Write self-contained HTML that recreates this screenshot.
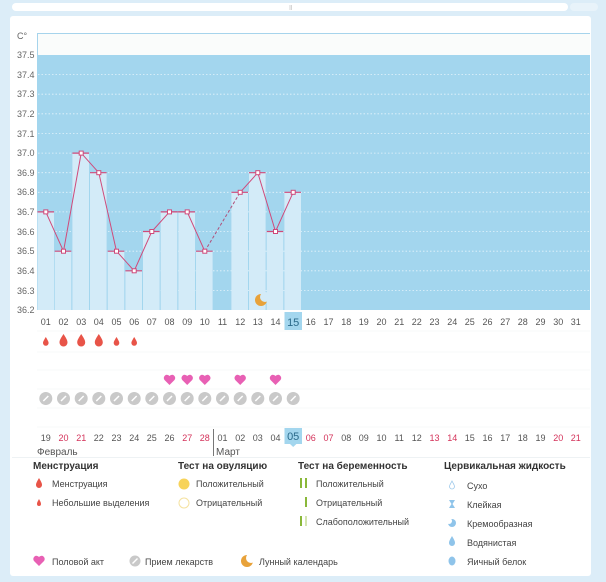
<!DOCTYPE html>
<html><head><meta charset="utf-8"><style>
html,body{margin:0;padding:0;background:#dcedf8;}
svg{display:block;font-family:"Liberation Sans","DejaVu Sans",sans-serif;}
</style></head><body>
<svg width="606" height="582" viewBox="0 0 606 582" xmlns="http://www.w3.org/2000/svg">
<rect x="0" y="0" width="606" height="582" fill="#dcedf8"/>
<rect x="12" y="3" width="556" height="8" rx="4" fill="#ffffff"/>
<rect x="570" y="3" width="28" height="8" rx="4" fill="#e8f3fa"/>
<line x1="290" y1="5" x2="290" y2="10" stroke="#bbb" stroke-width="0.6"/><line x1="291.5" y1="5" x2="291.5" y2="10" stroke="#bbb" stroke-width="0.6"/>
<rect x="10" y="16" width="581" height="560" rx="3" fill="#ffffff"/>
<rect x="37" y="33" width="553" height="22" fill="#fafcfb"/>
<line x1="37" y1="33.5" x2="590" y2="33.5" stroke="#a6d4ec" stroke-width="1"/>
<line x1="37.5" y1="33" x2="37.5" y2="310" stroke="#a6d4ec" stroke-width="1"/>
<rect x="37" y="55" width="553" height="255" fill="#a3d6ee"/>
<g stroke="#e4f3fb" stroke-width="0.8" stroke-dasharray="1.5,2">
<line x1="38" y1="74.6" x2="590" y2="74.6"/><line x1="38" y1="94.2" x2="590" y2="94.2"/><line x1="38" y1="113.8" x2="590" y2="113.8"/><line x1="38" y1="133.5" x2="590" y2="133.5"/><line x1="38" y1="153.1" x2="590" y2="153.1"/><line x1="38" y1="172.7" x2="590" y2="172.7"/><line x1="38" y1="192.3" x2="590" y2="192.3"/><line x1="38" y1="211.9" x2="590" y2="211.9"/><line x1="38" y1="231.5" x2="590" y2="231.5"/><line x1="38" y1="251.2" x2="590" y2="251.2"/><line x1="38" y1="270.8" x2="590" y2="270.8"/><line x1="38" y1="290.4" x2="590" y2="290.4"/>
</g>
<g fill="#d3ebf8">
<rect x="37.5" y="211.9" width="16.5" height="98.1"/>
<rect x="54.7" y="251.2" width="16.6" height="58.8"/>
<rect x="72.4" y="153.1" width="16.6" height="156.9"/>
<rect x="90" y="172.7" width="16.6" height="137.3"/>
<rect x="107.7" y="251.2" width="16.6" height="58.8"/>
<rect x="125.4" y="270.8" width="16.6" height="39.2"/>
<rect x="143" y="231.5" width="16.6" height="78.5"/>
<rect x="160.7" y="211.9" width="16.6" height="98.1"/>
<rect x="178.4" y="211.9" width="16.6" height="98.1"/>
<rect x="196" y="251.2" width="16.6" height="58.8"/>
<rect x="231.4" y="192.3" width="16.6" height="117.7"/>
<rect x="249" y="172.7" width="16.6" height="137.3"/>
<rect x="266.7" y="231.5" width="16.6" height="78.5"/>
<rect x="284.4" y="192.3" width="16.6" height="117.7"/>
</g>
<g stroke="#d04a7a" stroke-width="1.2">
<line x1="37.5" y1="211.9" x2="54" y2="211.9"/>
<line x1="54.7" y1="251.2" x2="71.3" y2="251.2"/>
<line x1="72.4" y1="153.1" x2="89" y2="153.1"/>
<line x1="90" y1="172.7" x2="106.6" y2="172.7"/>
<line x1="107.7" y1="251.2" x2="124.3" y2="251.2"/>
<line x1="125.4" y1="270.8" x2="142" y2="270.8"/>
<line x1="143" y1="231.5" x2="159.6" y2="231.5"/>
<line x1="160.7" y1="211.9" x2="177.3" y2="211.9"/>
<line x1="178.4" y1="211.9" x2="195" y2="211.9"/>
<line x1="196" y1="251.2" x2="212.6" y2="251.2"/>
<line x1="231.4" y1="192.3" x2="248" y2="192.3"/>
<line x1="249" y1="172.7" x2="265.6" y2="172.7"/>
<line x1="266.7" y1="231.5" x2="283.3" y2="231.5"/>
<line x1="284.4" y1="192.3" x2="301" y2="192.3"/>
</g>
<polyline points="45.8,211.9 63.5,251.2 81.2,153.1 98.8,172.7 116.5,251.2 134.2,270.8 151.8,231.5 169.5,211.9 187.2,211.9 204.8,251.2" fill="none" stroke="#d04a7a" stroke-width="1"/>
<line x1="204.8" y1="251.2" x2="240.2" y2="192.3" stroke="#b0507a" stroke-width="1" stroke-dasharray="3,2"/>
<polyline points="240.2,192.3 257.8,172.7 275.5,231.5 293.2,192.3" fill="none" stroke="#d04a7a" stroke-width="1"/>
<g fill="#fff" stroke="#d04a7a" stroke-width="1">
<rect x="43.8" y="209.9" width="4" height="4"/><rect x="61.5" y="249.2" width="4" height="4"/><rect x="79.2" y="151.1" width="4" height="4"/><rect x="96.8" y="170.7" width="4" height="4"/><rect x="114.5" y="249.2" width="4" height="4"/><rect x="132.2" y="268.8" width="4" height="4"/><rect x="149.8" y="229.5" width="4" height="4"/><rect x="167.5" y="209.9" width="4" height="4"/><rect x="185.2" y="209.9" width="4" height="4"/><rect x="202.8" y="249.2" width="4" height="4"/><rect x="238.2" y="190.3" width="4" height="4"/><rect x="255.8" y="170.7" width="4" height="4"/><rect x="273.5" y="229.5" width="4" height="4"/><rect x="291.2" y="190.3" width="4" height="4"/>
</g>
<!-- moon -->
<circle cx="261" cy="300" r="6" fill="#e8a23a"/>
<circle cx="265" cy="297" r="5" fill="#d3ebf8"/>
<g font-size="9" fill="#666" text-anchor="start">
<text x="17" y="39">C°</text>
<text x="17" y="58">37.5</text><text x="17" y="78">37.4</text><text x="17" y="97">37.3</text><text x="17" y="117">37.2</text><text x="17" y="137">37.1</text><text x="17" y="156">37.0</text><text x="17" y="176">36.9</text><text x="17" y="195">36.8</text><text x="17" y="215">36.7</text><text x="17" y="235">36.6</text><text x="17" y="254">36.5</text><text x="17" y="274">36.4</text><text x="17" y="294">36.3</text><text x="17" y="313">36.2</text>
</g>
<g stroke="#f7f8f9" stroke-width="1">
<line x1="37" y1="331" x2="590" y2="331"/><line x1="37" y1="352" x2="590" y2="352"/><line x1="37" y1="370" x2="590" y2="370"/><line x1="37" y1="389" x2="590" y2="389"/><line x1="37" y1="408" x2="590" y2="408"/><line x1="37" y1="427" x2="590" y2="427"/>
</g>
<rect x="284.5" y="312" width="17.5" height="18" fill="#a3d6ee"/>
<g font-size="9" fill="#555" text-anchor="middle">
<text x="45.8" y="325">01</text><text x="63.5" y="325">02</text><text x="81.2" y="325">03</text><text x="98.8" y="325">04</text><text x="116.5" y="325">05</text><text x="134.2" y="325">06</text><text x="151.8" y="325">07</text><text x="169.5" y="325">08</text><text x="187.2" y="325">09</text><text x="204.8" y="325">10</text><text x="222.5" y="325">11</text><text x="240.2" y="325">12</text><text x="257.8" y="325">13</text><text x="275.5" y="325">14</text><text x="293.2" y="326" font-size="11" fill="#2a6a8a">15</text><text x="310.8" y="325">16</text><text x="328.5" y="325">17</text><text x="346.2" y="325">18</text><text x="363.8" y="325">19</text><text x="381.5" y="325">20</text><text x="399.2" y="325">21</text><text x="416.8" y="325">22</text><text x="434.5" y="325">23</text><text x="452.2" y="325">24</text><text x="469.8" y="325">25</text><text x="487.5" y="325">26</text><text x="505.2" y="325">27</text><text x="522.8" y="325">28</text><text x="540.5" y="325">29</text><text x="558.2" y="325">30</text><text x="575.8" y="325">31</text>
</g>
<g fill="#e85448">
<path d="M45.8 337 C44 340 43 341.5 43 343 A2.8 2.8 0 0 0 48.6 343 C48.6 341.5 47.6 340 45.8 337Z"/>
<path d="M63.5 334 C61 338 59.5 340 59.5 342.5 A4 4 0 0 0 67.5 342.5 C67.5 340 66 338 63.5 334Z"/>
<path d="M81.2 334 C78.7 338 77.2 340 77.2 342.5 A4 4 0 0 0 85.2 342.5 C85.2 340 83.7 338 81.2 334Z"/>
<path d="M98.8 334 C96.3 338 94.8 340 94.8 342.5 A4 4 0 0 0 102.8 342.5 C102.8 340 101.3 338 98.8 334Z"/>
<path d="M116.5 337 C114.7 340 113.7 341.5 113.7 343 A2.8 2.8 0 0 0 119.3 343 C119.3 341.5 118.3 340 116.5 337Z"/>
<path d="M134.2 337 C132.4 340 131.4 341.5 131.4 343 A2.8 2.8 0 0 0 137 343 C137 341.5 136 340 134.2 337Z"/>
</g>
<g fill="#e860b4">
<path d="M169.5 385 L164.5 380 A2.8 2.8 0 0 1 169.5 376 A2.8 2.8 0 0 1 174.5 380 Z"/>
<path d="M187.2 385 L182.2 380 A2.8 2.8 0 0 1 187.2 376 A2.8 2.8 0 0 1 192.2 380 Z"/>
<path d="M204.8 385 L199.8 380 A2.8 2.8 0 0 1 204.8 376 A2.8 2.8 0 0 1 209.8 380 Z"/>
<path d="M240.2 385 L235.2 380 A2.8 2.8 0 0 1 240.2 376 A2.8 2.8 0 0 1 245.2 380 Z"/>
<path d="M275.5 385 L270.5 380 A2.8 2.8 0 0 1 275.5 376 A2.8 2.8 0 0 1 280.5 380 Z"/>
</g>
<g fill="#c9c9c9">
<circle cx="45.8" cy="398.5" r="6.5"/><circle cx="63.5" cy="398.5" r="6.5"/><circle cx="81.2" cy="398.5" r="6.5"/><circle cx="98.8" cy="398.5" r="6.5"/><circle cx="116.5" cy="398.5" r="6.5"/><circle cx="134.2" cy="398.5" r="6.5"/><circle cx="151.8" cy="398.5" r="6.5"/><circle cx="169.5" cy="398.5" r="6.5"/><circle cx="187.2" cy="398.5" r="6.5"/><circle cx="204.8" cy="398.5" r="6.5"/><circle cx="222.5" cy="398.5" r="6.5"/><circle cx="240.2" cy="398.5" r="6.5"/><circle cx="257.8" cy="398.5" r="6.5"/><circle cx="275.5" cy="398.5" r="6.5"/><circle cx="293.2" cy="398.5" r="6.5"/>
</g>
<g stroke="#fff" stroke-width="1.5">
<line x1="43.3" y1="401" x2="48.3" y2="396"/><line x1="61" y1="401" x2="66" y2="396"/><line x1="78.7" y1="401" x2="83.7" y2="396"/><line x1="96.3" y1="401" x2="101.3" y2="396"/><line x1="114" y1="401" x2="119" y2="396"/><line x1="131.7" y1="401" x2="136.7" y2="396"/><line x1="149.3" y1="401" x2="154.3" y2="396"/><line x1="167" y1="401" x2="172" y2="396"/><line x1="184.7" y1="401" x2="189.7" y2="396"/><line x1="202.3" y1="401" x2="207.3" y2="396"/><line x1="220" y1="401" x2="225" y2="396"/><line x1="237.7" y1="401" x2="242.7" y2="396"/><line x1="255.3" y1="401" x2="260.3" y2="396"/><line x1="273" y1="401" x2="278" y2="396"/><line x1="290.7" y1="401" x2="295.7" y2="396"/>
</g>
<rect x="284.5" y="428" width="17.5" height="16" fill="#a3d6ee"/>
<path d="M290 444 L293.2 447 L296.4 444Z" fill="#a3d6ee"/>
<line x1="213.5" y1="429" x2="213.5" y2="456" stroke="#777" stroke-width="1"/>
<g font-size="9" fill="#555" text-anchor="middle">
<text x="45.8" y="441">19</text><text x="63.5" y="441" fill="#d4325a">20</text><text x="81.2" y="441" fill="#d4325a">21</text><text x="98.8" y="441">22</text><text x="116.5" y="441">23</text><text x="134.2" y="441">24</text><text x="151.8" y="441">25</text><text x="169.5" y="441">26</text><text x="187.2" y="441" fill="#d4325a">27</text><text x="204.8" y="441" fill="#d4325a">28</text><text x="222.5" y="441">01</text><text x="240.2" y="441">02</text><text x="257.8" y="441">03</text><text x="275.5" y="441">04</text><text x="293.2" y="440" font-size="11" fill="#2a6a8a">05</text><text x="310.8" y="441" fill="#d4325a">06</text><text x="328.5" y="441" fill="#d4325a">07</text><text x="346.2" y="441">08</text><text x="363.8" y="441">09</text><text x="381.5" y="441">10</text><text x="399.2" y="441">11</text><text x="416.8" y="441">12</text><text x="434.5" y="441" fill="#d4325a">13</text><text x="452.2" y="441" fill="#d4325a">14</text><text x="469.8" y="441">15</text><text x="487.5" y="441">16</text><text x="505.2" y="441">17</text><text x="522.8" y="441">18</text><text x="540.5" y="441">19</text><text x="558.2" y="441" fill="#d4325a">20</text><text x="575.8" y="441" fill="#d4325a">21</text>
</g>
<g font-size="10" fill="#555"><text x="37" y="455">Февраль</text><text x="216" y="455">Март</text></g>
<line x1="12" y1="457.5" x2="590" y2="457.5" stroke="#eef2f4" stroke-width="1"/>
<g font-size="10" font-weight="bold" fill="#333">
<text x="33" y="469">Менструация</text><text x="178" y="469">Тест на овуляцию</text><text x="298" y="469">Тест на беременность</text><text x="444" y="469">Цервикальная жидкость</text>
</g>
<g font-size="9" fill="#444">
<text x="52" y="487">Менструация</text><text x="52" y="506">Небольшие выделения</text>
<text x="196" y="487">Положительный</text><text x="196" y="506">Отрицательный</text>
<text x="316" y="487">Положительный</text><text x="316" y="506">Отрицательный</text><text x="316" y="525">Слабоположительный</text>
<text x="467" y="489">Сухо</text><text x="467" y="508">Клейкая</text><text x="467" y="527">Кремообразная</text><text x="467" y="546">Водянистая</text><text x="467" y="565">Яичный белок</text>
<text x="52" y="565">Половой акт</text><text x="145" y="565">Прием лекарств</text><text x="259" y="565">Лунный календарь</text>
</g>
<path d="M39 478 C37 481.5 36 483 36 485 A3 3 0 0 0 42 485 C42 483 41 481.5 39 478Z" fill="#e85448"/>
<path d="M39 499 C37.7 501.5 37 502.5 37 504 A2 2 0 0 0 41 504 C41 502.5 40.3 501.5 39 499Z" fill="#e85448"/>
<circle cx="184" cy="484" r="5.5" fill="#f7d35a"/>
<circle cx="184" cy="503" r="5" fill="none" stroke="#f5e2a0" stroke-width="1"/>
<rect x="300" y="478" width="2" height="10" fill="#8ab83a"/><rect x="305" y="478" width="2" height="10" fill="#8ab83a"/>
<rect x="305" y="497" width="2" height="10" fill="#8ab83a"/>
<rect x="300" y="516" width="2" height="10" fill="#8ab83a"/><rect x="305" y="516" width="2" height="10" fill="#d4e5b0"/>
<path d="M452 481 C450.5 484 449.5 485 449.5 486.5 A2.5 2.5 0 0 0 454.5 486.5 C454.5 485 453.5 484 452 481Z" fill="none" stroke="#9cc8ea" stroke-width="0.8"/>
<path d="M449 500 L455 500 L452.5 504 L455 508 L449 508 L451.5 504Z" fill="#8fc4ea"/>
<circle cx="452" cy="523" r="4" fill="#8fc4ea"/><circle cx="449" cy="521" r="3" fill="#fff"/>
<path d="M452 536 C450 539.5 449 541 449 543 A3 3 0 0 0 455 543 C455 541 454 539.5 452 536Z" fill="#8fc4ea"/>
<ellipse cx="452" cy="561" rx="3.5" ry="4.5" fill="#8fc4ea"/>
<path d="M39 566 L34 561 A2.8 2.8 0 0 1 39 557 A2.8 2.8 0 0 1 44 561 Z" fill="#e860b4"/>
<circle cx="135" cy="561" r="5.5" fill="#c9c9c9"/><line x1="132.5" y1="563.5" x2="137.5" y2="558.5" stroke="#fff" stroke-width="1.4"/>
<circle cx="247" cy="561" r="6" fill="#e8a23a"/>
<circle cx="251" cy="558" r="5" fill="#fff"/>
</svg>
</body></html>
